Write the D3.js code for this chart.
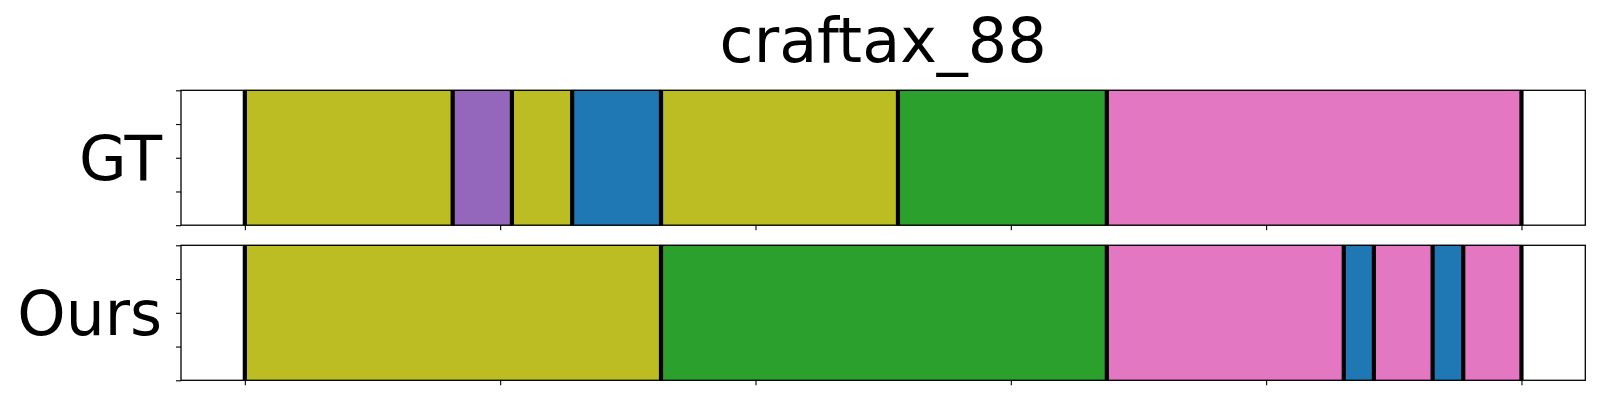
<!DOCTYPE html>
<html>
<head>
<meta charset="utf-8">
<script src="https://cdn.jsdelivr.net/npm/d3@7"></script>
<style>
  html, body { margin: 0; padding: 0; background: #fff; }
  svg { display: block; font-family: "DejaVu Sans", sans-serif; }
</style>
</head>
<body>
<svg id="chart" width="1600" height="400"></svg>
<script>
// ---- data ----
const title = "craftax_88";
const rowLabels = ["GT", "Ours"];
// segment boundaries (frame index) and labels per row
const gtBounds = [0, 40.7, 52.3, 64.1, 81.5, 127.9, 168.8, 250];
const gtClasses = ["olive", "purple", "olive", "blue", "olive", "green", "pink"];
const oursBounds = [0, 81.5, 168.8, 215.2, 221.1, 232.6, 238.6, 250];
const oursClasses = ["olive", "green", "pink", "blue", "pink", "blue", "pink"];
const xTicks = [0, 50, 100, 150, 200, 250];
const yTicks = [0, 0.25, 0.5, 0.75, 1];
const classNames = ["blue", "green", "purple", "olive", "pink"];
const classColors = ["#1f77b4", "#2ca02c", "#9467bd", "#bcbd22", "#e377c2"];

// ---- layout ----
const svg = d3.select("#chart");
const left = 181, right = 1585.3;
const panels = [
  { label: rowLabels[0], bounds: gtBounds, classes: gtClasses, top: 90.3, bottom: 225.2 },
  { label: rowLabels[1], bounds: oursBounds, classes: oursClasses, top: 245.3, bottom: 380.3 }
];

const x = d3.scaleLinear().domain([-12.5, 262.5]).range([left, right]);
const color = d3.scaleOrdinal().domain(classNames).range(classColors);

svg.append("text")
  .attr("x", (left + right) / 2)
  .attr("y", 62.3)
  .attr("text-anchor", "middle")
  .attr("font-size", 62)
  .attr("fill", "#000")
  .text(title);

panels.forEach(p => {
  const y = d3.scaleLinear().domain([0, 1]).range([p.bottom, p.top]);
  const g = svg.append("g");

  const segs = p.classes.map((c, i) => ({ c, x0: p.bounds[i], x1: p.bounds[i + 1] }));

  g.selectAll("rect.seg").data(segs).enter().append("rect")
    .attr("class", "seg")
    .attr("x", d => x(d.x0))
    .attr("width", d => x(d.x1) - x(d.x0))
    .attr("y", y(1))
    .attr("height", y(0) - y(1))
    .attr("fill", d => color(d.c))
    .attr("stroke", d => d3.color(color(d.c)).darker(0.35))
    .attr("stroke-width", 1);

  // boundary lines
  g.selectAll("line.bnd").data(p.bounds).enter().append("line")
    .attr("class", "bnd")
    .attr("x1", d => x(d)).attr("x2", d => x(d))
    .attr("y1", y(1)).attr("y2", y(0))
    .attr("stroke", "#000")
    .attr("stroke-width", 4.2);

  // axes
  const xAxis = d3.axisBottom(x).tickValues(xTicks).tickSize(5).tickFormat("");
  const yAxis = d3.axisLeft(y).tickValues(yTicks).tickSize(5).tickFormat("");
  const gx = g.append("g").attr("transform", `translate(0,${p.bottom})`).call(xAxis);
  const gy = g.append("g").attr("transform", `translate(${left},0)`).call(yAxis);
  [gx, gy].forEach(a => {
    a.select(".domain").remove();
    a.selectAll(".tick line").attr("stroke", "#000").attr("stroke-width", 1.1);
  });

  // frame
  g.append("rect")
    .attr("x", left).attr("y", p.top)
    .attr("width", right - left).attr("height", p.bottom - p.top)
    .attr("fill", "none").attr("stroke", "#000").attr("stroke-width", 1.3);

  // row label
  g.append("text")
    .attr("x", 162)
    .attr("y", (p.top + p.bottom) / 2)
    .attr("dy", "0.36em")
    .attr("text-anchor", "end")
    .attr("font-size", 61.5)
    .attr("fill", "#000")
    .text(p.label);
});
</script>
</body>
</html>
